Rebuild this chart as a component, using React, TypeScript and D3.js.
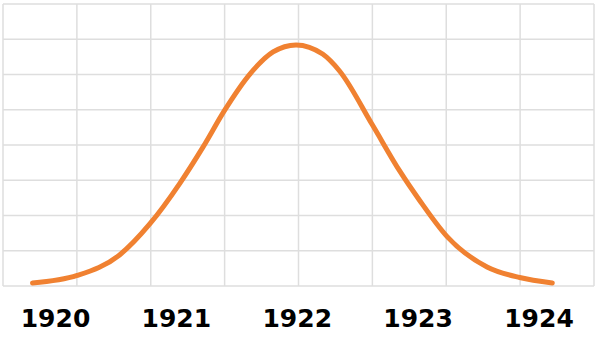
import React from "react";
import * as d3 from "d3";

const years = [1920, 1921, 1922, 1923, 1924];
const curveYears = [1919.81, 1920.18, 1920.53, 1920.78, 1921.03, 1921.22, 1921.4, 1921.61, 1921.8, 1921.99, 1922.21, 1922.35, 1922.62, 1922.85, 1923.01, 1923.24, 1923.57, 1923.84, 1924.11];
const curveValues = [0.085, 0.3, 0.88, 1.76, 2.92, 3.94, 4.99, 6.02, 6.64, 6.84, 6.58, 6.1, 4.58, 3.25, 2.44, 1.4, 0.54, 0.24, 0.085];
const gridCols = [0, 1, 2, 3, 4, 5, 6, 7, 8];
const gridRows = [0, 1, 2, 3, 4, 5, 6, 7, 8];

const W = 600;
const H = 341;

export default function App() {
  const x = d3.scaleLinear().domain([1920, 1924]).range([55.5, 539]);
  const gx = d3.scaleLinear().domain([0, 8]).range([3, 594]);
  const y = d3.scaleLinear().domain([0, 8]).range([286, 4]);
  const pts: [number, number][] = curveYears.map((yr, i) => [yr, curveValues[i]]);
  const line = d3
    .line<[number, number]>()
    .x((d) => x(d[0]))
    .y((d) => y(d[1]))
    .curve(d3.curveMonotoneX);

  return (
    <svg width={W} height={H} style={{ position: "absolute", left: 0, top: 0, background: "#fff" }}>
      <g stroke="#dedede" strokeWidth={1.5}>
        {gridCols.map((c) => (
          <line key={"c" + c} x1={gx(c)} x2={gx(c)} y1={y(8)} y2={y(0)} />
        ))}
        {gridRows.map((r) => (
          <line key={"r" + r} x1={gx(0)} x2={gx(8)} y1={y(r)} y2={y(r)} />
        ))}
      </g>
      <path d={line(pts) || ""} fill="none" stroke="#F08131" strokeWidth={5} strokeLinecap="round" strokeLinejoin="round" />
      <g fontFamily="'DejaVu Sans', sans-serif" fontWeight="bold" fontSize={25} fill="#000" textAnchor="middle">
        {years.map((yr) => (
          <text key={yr} x={x(yr)} y={327}>
            {yr}
          </text>
        ))}
      </g>
    </svg>
  );
}
